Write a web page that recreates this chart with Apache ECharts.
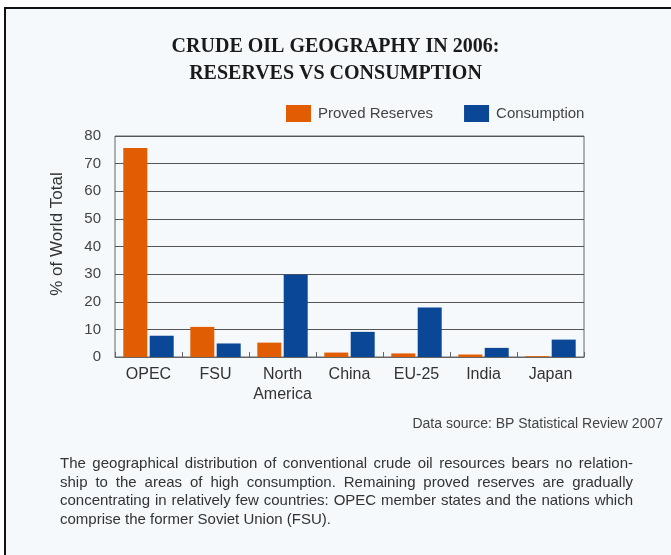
<!DOCTYPE html>
<html>
<head>
<meta charset="utf-8">
<script src="https://cdn.jsdelivr.net/npm/echarts@6/dist/echarts.min.js"></script>
<style>
html,body{margin:0;padding:0;background:#fff;}
#c{width:671px;height:555px;}
</style>
</head>
<body>
<div id="c"></div>
<script>
const categories = ['OPEC', 'FSU', 'North\nAmerica', 'China', 'EU-25', 'India', 'Japan'];
const provedReserves = [75.7, 10.9, 5.2, 1.6, 1.3, 0.9, 0.3];
const consumption = [7.7, 4.9, 29.8, 9.1, 17.9, 3.3, 6.3];
const yTicks = { min: 0, max: 80, interval: 10 };

const titleLines = ['CRUDE OIL GEOGRAPHY IN 2006:', 'RESERVES VS CONSUMPTION'];
const yAxisTitle = '% of World Total';
const sourceText = 'Data source: BP Statistical Review 2007';
const paragraphLines = [
  'The geographical distribution of conventional crude oil resources bears no relation-',
  'ship to the areas of high consumption. Remaining proved reserves are gradually',
  'concentrating in relatively few countries: OPEC member states and the nations which',
  'comprise the former Soviet Union (FSU).'
];

const ORANGE = '#e25c02';
const BLUE = '#0b4797';
const SANS = '"Liberation Sans", Arial, Helvetica, sans-serif';
const SERIF = '"Liberation Serif", "Times New Roman", serif';

const chart = echarts.init(document.getElementById('c'), null, { renderer: 'canvas' });

const graphics = [
  { type: 'rect', z: -10, shape: { x: 5, y: 8, width: 680, height: 560 },
    style: { fill: '#f5f9fc', stroke: '#111', lineWidth: 2 } },
  { type: 'text', left: 'center', top: 37,
    style: { text: titleLines[0], font: 'bold 20px ' + SERIF, fill: '#1a1a1a', textAlign: 'center' } },
  { type: 'text', left: 'center', top: 64,
    style: { text: titleLines[1], font: 'bold 20px ' + SERIF, fill: '#1a1a1a', textAlign: 'center' } },
  { type: 'text', x: 57, y: 234, rotation: Math.PI / 2,
    style: { text: yAxisTitle, font: '17px ' + SANS, fill: '#333', textAlign: 'center', textVerticalAlign: 'middle' } },
  { type: 'text', right: 8, top: 417,
    style: { text: sourceText, font: '14px ' + SANS, fill: '#444' } }
];

// justified paragraph (last line left-aligned)
const PFONT = '15px ' + SANS;
const PLEFT = 60, PRIGHT = 633;
const mctx = document.createElement('canvas').getContext('2d');
mctx.font = PFONT;
paragraphLines.forEach((line, i) => {
  const y = 464 + i * 18.6;
  if (i === paragraphLines.length - 1) {
    graphics.push({ type: 'text', x: PLEFT, y: y,
      style: { text: line, font: PFONT, fill: '#333', textVerticalAlign: 'middle' } });
    return;
  }
  const words = line.split(' ');
  const widths = words.map(w => mctx.measureText(w).width);
  const total = widths.reduce((a, b) => a + b, 0);
  const gap = (PRIGHT - PLEFT - total) / (words.length - 1);
  let x = PLEFT;
  words.forEach((w, k) => {
    graphics.push({ type: 'text', x: x, y: y,
      style: { text: w, font: PFONT, fill: '#333', textVerticalAlign: 'middle' } });
    x += widths[k] + gap;
  });
});

chart.setOption({
  backgroundColor: '#ffffff',
  animation: false,
  graphic: graphics,
  legend: {
    left: 281, top: 100,
    itemWidth: 25, itemHeight: 17, itemGap: 31,
    icon: 'rect',
    textStyle: { fontFamily: SANS, fontSize: 15, color: '#444', padding: [0, 0, 0, 2] },
    data: ['Proved Reserves', 'Consumption']
  },
  grid: {
    left: 115, right: 87, top: 136, bottom: 198,
    show: true, borderColor: '#666', borderWidth: 1, backgroundColor: 'transparent'
  },
  xAxis: {
    type: 'category',
    data: categories,
    axisLine: { lineStyle: { color: '#666' } },
    axisTick: { show: true, inside: true, length: 5, lineStyle: { color: '#666' } },
    axisLabel: { fontFamily: SANS, fontSize: 16, color: '#333', margin: 8, lineHeight: 20, interval: 0 }
  },
  yAxis: {
    type: 'value',
    min: yTicks.min, max: yTicks.max, interval: yTicks.interval,
    axisLine: { show: false },
    axisTick: { show: false },
    axisLabel: { fontFamily: SANS, fontSize: 15, color: '#444', margin: 14 },
    splitLine: { lineStyle: { color: '#555', width: 1 } }
  },
  series: [
    { name: 'Proved Reserves', type: 'bar', data: provedReserves,
      itemStyle: { color: ORANGE }, barWidth: 24, barGap: '10%' },
    { name: 'Consumption', type: 'bar', data: consumption,
      itemStyle: { color: BLUE }, barWidth: 24, barGap: '10%' }
  ]
});
</script>
</body>
</html>
